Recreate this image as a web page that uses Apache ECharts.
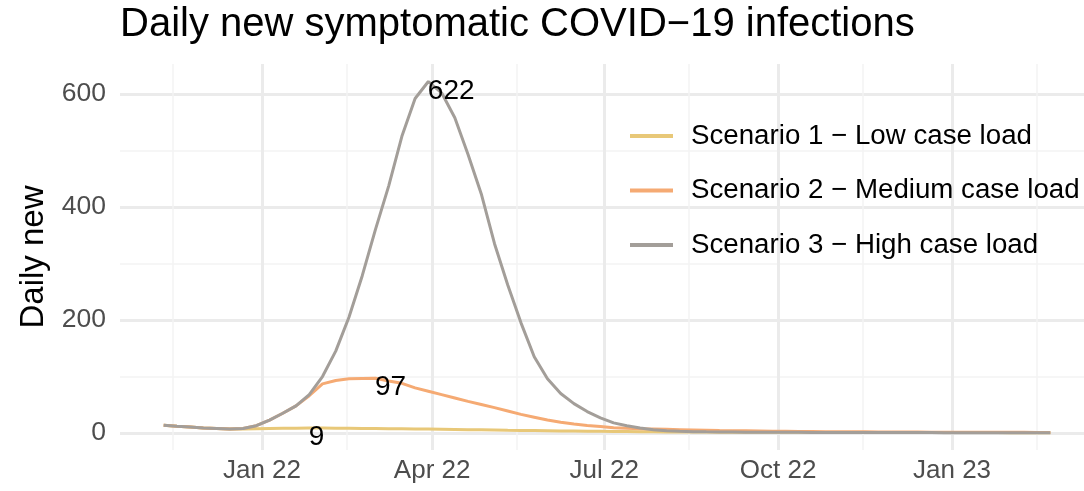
<!DOCTYPE html>
<html>
<head>
<meta charset="utf-8">
<script src="https://cdn.jsdelivr.net/npm/echarts@6/dist/echarts.min.js"></script>
<style>
  html, body { margin: 0; padding: 0; background: #fff; }
  #chart { width: 1084px; height: 491px; }
</style>
</head>
<body>
<div id="chart"></div>
<script>
// weekly samples, starting 10 Nov 2021
const startDate = [2021, 10, 10]
const stepDays = 7

const seriesNames = [
  'Scenario 1 \u2212 Low case load',
  'Scenario 2 \u2212 Medium case load',
  'Scenario 3 \u2212 High case load'
]
const seriesColors = ['#E8C878', '#F5AA73', '#A39E99']

const lowLoad = [14, 12, 10.5, 9, 8, 7, 7, 7.5, 8, 8.4, 8.7, 9, 8.8, 8.6, 8.4, 8.2, 8, 7.8, 7.5, 7.2,
  7, 6.7, 6.4, 6, 5.7, 5.4, 5, 4.7, 4.4, 4.1, 3.8, 3.5, 3.2, 3, 2.8, 2.6, 2.4, 2.2, 2, 1.9,
  1.8, 1.7, 1.6, 1.5, 1.4, 1.3, 1.3, 1.2, 1.2, 1.1, 1.1, 1, 1, 1, 1, 0.9, 0.9, 0.9, 0.9, 0.8,
  0.8, 0.8, 0.8, 0.8, 0.7, 0.7, 0.7, 0.7]
const mediumLoad = [14, 12, 10.5, 9, 8, 7, 8, 13, 23, 35, 48, 66, 87, 93, 96, 96.5, 97, 92, 88, 80,
  74, 68, 62, 56, 50.5, 45, 39, 33, 28, 23, 19, 16, 13.5, 11.5, 9.5, 8.5, 7.5, 7, 6.5, 6,
  5.5, 5, 4.5, 4.2, 3.9, 3.6, 3.3, 3.1, 2.9, 2.7, 2.5, 2.3, 2.2, 2.1, 2, 1.9, 1.8, 1.7, 1.6, 1.5,
  1.4, 1.4, 1.3, 1.3, 1.2, 1.2, 1.1, 1.1]
const highLoad = [14, 12, 10.5, 9, 8, 7, 8, 13, 23, 35, 48, 68, 100, 145, 205, 278, 360, 437, 525, 592,
  622, 602, 558, 493, 423, 335, 262, 195, 135, 96, 70, 52, 38, 27, 18, 13, 9, 6, 4, 3,
  2.5, 2.2, 2, 1.8, 1.6, 1.5, 1.4, 1.3, 1.2, 1.1, 1, 1, 1, 0.9, 0.9, 0.9, 0.8, 0.8, 0.8, 0.7,
  0.7, 0.7, 0.7, 0.6, 0.6, 0.6, 0.6, 0.6]
const seriesValues = [lowLoad, mediumLoad, highLoad]

const yLabels = [0, 200, 400, 600]
const yMinorGrid = [100, 300, 500]
const xMajor = [[2022, 0, 1], [2022, 3, 1], [2022, 6, 1], [2022, 9, 1], [2023, 0, 1]]
const xMinor = [[2021, 10, 15], [2022, 1, 15], [2022, 4, 16], [2022, 7, 15], [2022, 10, 15], [2023, 1, 15]]
const monthNames = ['Jan', 'Feb', 'Mar', 'Apr', 'May', 'Jun', 'Jul', 'Aug', 'Sep', 'Oct', 'Nov', 'Dec']
// peak labels look only at the epidemic wave, from this date on
const peakFrom = [2022, 0, 1]

const FONT = '"Liberation Sans", Arial, sans-serif'
const DAY = 86400000
const toTime = a => new Date(a[0], a[1], a[2]).getTime()

const dates = lowLoad.map((_, i) => new Date(startDate[0], startDate[1], startDate[2] + i * stepDays).getTime())
const jan22 = toTime([2022, 0, 1])
const xMin = jan22 - 75.1 * DAY
const xMax = jan22 + 434.8 * DAY

const major = { color: '#EBEBEB', width: 3, type: 'solid' }
const minor = { color: '#F3F3F3', width: 1.5, type: 'solid' }
const gridLines = []
yLabels.forEach(v => gridLines.push({ yAxis: v, lineStyle: major }))
yMinorGrid.forEach(v => gridLines.push({ yAxis: v, lineStyle: minor }))
xMajor.forEach(d => gridLines.push({ xAxis: toTime(d), lineStyle: major }))
xMinor.forEach(d => gridLines.push({ xAxis: toTime(d), lineStyle: minor }))

function peakPoint(values) {
  let best = -1
  dates.forEach((t, i) => {
    if (t >= toTime(peakFrom) && (best < 0 || values[i] > values[best])) best = i
  })
  return { coord: [dates[best], values[best]], value: values[best] }
}

const chart = echarts.init(document.getElementById('chart'))

const lineSeries = seriesNames.map((name, k) => ({
  name: name,
  type: 'line',
  z: 3,
  showSymbol: false,
  symbol: 'none',
  data: dates.map((t, i) => [t, seriesValues[k][i]]),
  itemStyle: { color: seriesColors[k] },
  lineStyle: { color: seriesColors[k], width: 3 },
  markPoint: {
    symbol: 'circle',
    symbolSize: 1,
    itemStyle: { color: 'rgba(0,0,0,0)' },
    label: {
      show: true,
      position: [0, 0],
      align: 'left',
      verticalAlign: 'top',
      offset: [0, -4],
      color: '#000',
      fontFamily: FONT,
      fontSize: 28,
      formatter: p => String(Math.round(p.value))
    },
    data: [peakPoint(seriesValues[k])]
  }
}))

chart.setOption({
  animation: false,
  backgroundColor: '#fff',
  title: {
    text: 'Daily new symptomatic COVID\u221219 infections',
    left: 120,
    top: 5,
    padding: 0,
    textStyle: { fontFamily: FONT, fontSize: 40, fontWeight: 'normal', color: '#000' }
  },
  legend: {
    orient: 'vertical',
    left: 625,
    top: 116,
    icon: 'rect',
    itemWidth: 43,
    itemHeight: 4,
    itemGap: 24.5,
    data: seriesNames,
    textStyle: { fontFamily: FONT, fontSize: 27.7, color: '#000', lineHeight: 30, padding: [0, 0, 0, 13] }
  },
  grid: { left: 120, right: 0, top: 64, bottom: 41, containLabel: false },
  xAxis: {
    type: 'value',
    min: xMin,
    max: xMax,
    splitLine: { show: false },
    axisLine: { show: false },
    axisTick: { show: false },
    axisLabel: {
      customValues: xMajor.map(toTime),
      hideOverlap: false,
      margin: 8,
      color: '#4D4D4D',
      fontFamily: FONT,
      fontSize: 26,
      formatter: v => {
        const d = new Date(v)
        return monthNames[d.getMonth()] + ' ' + String(d.getFullYear()).slice(2)
      }
    }
  },
  yAxis: {
    type: 'value',
    min: -30,
    max: 653,
    name: 'Daily new',
    nameLocation: 'middle',
    nameRotate: 90,
    nameGap: 70,
    nameTextStyle: { fontFamily: FONT, fontSize: 33, color: '#000' },
    splitLine: { show: false },
    axisLine: { show: false },
    axisTick: { show: false },
    axisLabel: {
      customValues: yLabels,
      margin: 14,
      color: '#4D4D4D',
      fontFamily: FONT,
      fontSize: 26.5
    }
  },
  series: [{
    type: 'line',
    z: 1,
    data: [],
    silent: true,
    markLine: {
      z: 1,
      silent: true,
      symbol: ['none', 'none'],
      label: { show: false },
      emphasis: { disabled: true },
      data: gridLines
    }
  }].concat(lineSeries)
})
</script>
</body>
</html>
